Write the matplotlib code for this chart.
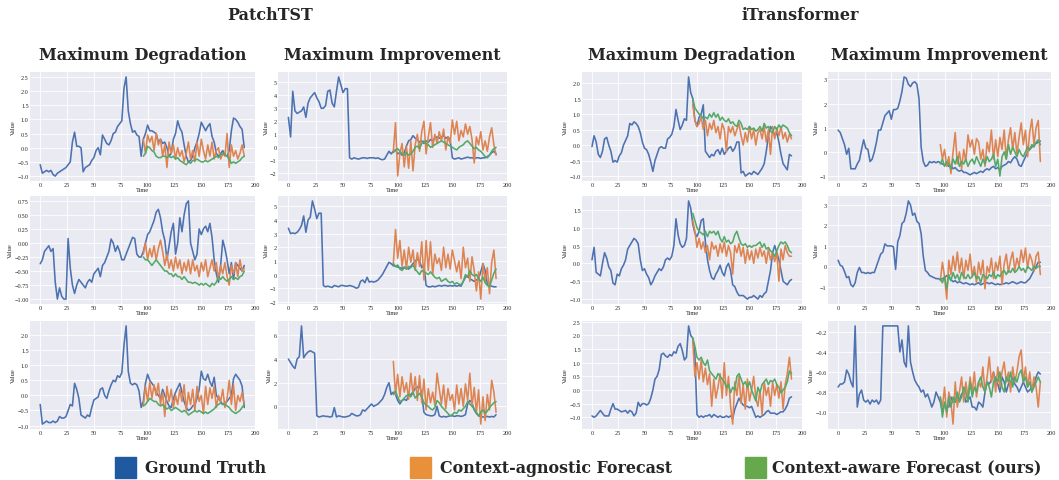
import numpy as np
import matplotlib
matplotlib.use("Agg")
import matplotlib.pyplot as plt
import seaborn as sns
from matplotlib.patches import Rectangle
from matplotlib.ticker import MultipleLocator

sns.set_style("darkgrid")
plt.rcParams['font.family'] = ['Liberation Serif', 'DejaVu Serif']

# time axes
t_gt = np.arange(0, 192, 2)
t_fc = np.arange(96, 192, 2)

# ---------------- PatchTST, Maximum Degradation ----------------
p_deg1_gt = [-0.6,-0.9,-0.85,-0.8,-0.85,-0.8,-0.95,-1.0,-0.9,-0.85,-0.8,-0.75,-0.7,-0.6,-0.5,0.2,0.55,0.05,0.05,0.0,
             -0.85,-0.7,-0.65,-0.6,-0.45,-0.35,-0.1,0.0,-0.25,0.45,0.3,0.15,0.1,0.25,0.5,0.55,0.75,0.85,0.95,2.1,
             2.5,1.3,0.85,0.55,0.6,0.45,0.4,-0.3,0.3,0.5,0.8,0.6,0.6,0.55,0.5,0.2,0.3,0.15,0.2,0.0,
             -0.3,-0.2,0.3,0.5,0.95,0.7,0.55,0.1,-0.3,-0.5,-0.45,-0.3,0.0,0.2,0.5,0.9,0.75,0.6,0.75,0.85,
             0.4,0.2,-0.2,-0.3,-0.2,-0.1,-0.25,-0.3,-0.1,0.6,1.05,1.0,0.9,0.75,0.65,0.0]
p_deg1_agn = [0.3,-0.2,0.45,0.2,0.4,-0.1,0.5,0.1,0.3,-0.3,0.1,-0.7,0.2,-0.2,0.1,-0.4,0.0,-0.3,-0.1,-0.5,
              -0.2,0.2,-0.4,-0.1,-0.5,0.2,-0.3,0.3,-0.1,-0.4,0.1,-0.3,0.2,-0.4,-0.1,0.0,-0.4,-0.2,-0.3,0.5,
              -0.7,0.1,-0.3,-0.1,-0.4,-0.2,0.1,-0.3]
p_deg1_awr = [-0.3,-0.2,0.05,0.0,-0.1,-0.15,-0.3,-0.35,-0.35,-0.3,-0.3,-0.35,-0.3,-0.35,-0.3,-0.4,-0.35,-0.45,-0.5,-0.55,
              -0.6,-0.5,-0.55,-0.45,-0.45,-0.4,-0.45,-0.5,-0.5,-0.45,-0.5,-0.45,-0.4,-0.35,-0.3,-0.35,-0.25,-0.2,-0.25,-0.3,
              -0.4,-0.55,-0.5,-0.55,-0.5,-0.45,-0.35,-0.3]

p_deg2_gt = [-0.37,-0.3,-0.15,-0.1,-0.05,-0.15,-0.1,-0.7,-1.0,-0.8,-0.95,-1.0,-1.0,0.08,-0.45,-0.75,-0.9,-0.75,-0.65,-0.7,
             -0.75,-0.8,-0.7,-0.65,-0.7,-0.55,-0.5,-0.45,-0.6,-0.4,-0.35,-0.25,-0.15,0.07,0.0,-0.15,-0.05,-0.15,-0.3,-0.3,
             -0.2,-0.1,0.0,0.1,0.08,-0.2,-0.25,-0.25,-0.15,0.0,0.15,0.2,0.3,0.4,0.55,0.6,0.45,0.2,0.05,-0.3,
             -0.05,0.2,0.35,-0.2,0.0,0.45,0.2,0.5,0.7,0.75,0.0,-0.15,-0.3,-0.2,0.25,0.15,0.25,0.3,0.2,0.35,
             0.1,-0.3,-0.55,-0.7,-0.4,0.05,-0.1,-0.3,-0.55,-0.35,-0.65,-0.35,-0.4,-0.45,-0.5,-0.4]
p_deg2_agn = [-0.2,0.0,-0.3,-0.1,-0.25,-0.05,-0.3,-0.1,0.05,-0.15,-0.4,-0.2,-0.45,-0.3,-0.5,-0.25,-0.45,-0.3,-0.55,-0.35,
              -0.5,-0.3,-0.55,-0.3,-0.5,-0.4,-0.6,-0.35,-0.5,-0.3,-0.6,-0.45,-0.3,-0.5,-0.35,-0.65,-0.4,-0.55,-0.35,-0.6,
              -0.75,-0.4,-0.55,-0.35,-0.6,-0.3,-0.5,-0.45]
p_deg2_awr = [-0.25,-0.3,-0.3,-0.35,-0.4,-0.35,-0.3,-0.35,-0.4,-0.45,-0.5,-0.5,-0.55,-0.55,-0.6,-0.55,-0.6,-0.6,-0.65,-0.6,
              -0.65,-0.7,-0.7,-0.72,-0.7,-0.72,-0.75,-0.72,-0.75,-0.72,-0.75,-0.78,-0.72,-0.75,-0.7,-0.6,-0.65,-0.6,-0.65,-0.68,
              -0.65,-0.6,-0.65,-0.62,-0.65,-0.6,-0.58,-0.5]

p_deg3_gt = [-0.3,-0.95,-0.9,-0.85,-0.9,-0.9,-0.85,-0.9,-0.85,-0.7,-0.75,-0.75,-0.7,-0.5,-0.3,-0.35,0.4,0.2,-0.1,-0.65,
             -0.7,-0.75,-0.65,-0.7,-0.4,-0.15,-0.1,-0.05,0.2,0.25,0.0,-0.1,0.15,0.35,0.5,0.45,0.65,0.6,0.75,1.65,
             2.3,0.8,0.4,0.35,0.4,0.35,0.15,-0.4,-0.2,0.4,0.7,0.5,0.4,0.3,0.1,0.0,-0.1,0.2,0.0,-0.2,
             -0.35,-0.4,-0.1,0.1,0.25,0.4,0.1,-0.2,-0.4,-0.5,-0.45,-0.35,-0.3,-0.1,0.2,0.8,0.55,0.5,0.7,0.45,
             0.3,0.6,0.0,-0.1,-0.2,-0.3,-0.25,-0.2,-0.1,0.0,0.55,0.7,0.6,0.5,0.3,-0.4]
p_deg3_agn = [-0.35,0.3,-0.2,0.45,-0.1,0.35,0.0,0.4,-0.3,0.1,-0.7,0.3,-0.2,0.2,-0.4,0.0,-0.3,0.2,-0.2,0.35,
              -0.5,0.1,-0.3,0.2,-0.5,0.3,-0.2,0.0,-0.6,0.3,-0.3,0.25,-0.1,0.3,-0.4,0.0,-0.2,0.2,-0.4,-0.1,
              0.5,-0.3,0.35,-0.5,0.0,-0.2,0.1,-0.3]
p_deg3_awr = [-0.35,-0.3,-0.2,-0.1,-0.15,-0.2,-0.2,-0.3,-0.35,-0.3,-0.4,-0.45,-0.4,-0.5,-0.45,-0.4,-0.45,-0.5,-0.55,-0.5,
              -0.55,-0.65,-0.6,-0.55,-0.5,-0.55,-0.5,-0.55,-0.6,-0.55,-0.6,-0.55,-0.5,-0.45,-0.35,-0.3,-0.25,-0.3,-0.3,-0.35,
              -0.4,-0.5,-0.55,-0.6,-0.55,-0.5,-0.4,-0.3]

# ---------------- PatchTST, Maximum Improvement ----------------
p_imp1_gt = [2.3,0.8,4.3,2.8,2.6,2.7,2.8,3.1,2.3,3.4,3.8,4.0,4.2,3.8,3.5,3.0,3.0,3.2,4.3,4.4,
             3.4,3.1,4.3,5.4,4.8,4.2,4.5,4.5,-0.8,-0.9,-0.8,-0.85,-0.9,-0.85,-0.8,-0.8,-0.85,-0.8,-0.8,-0.8,
             -0.85,-0.8,-0.9,-0.95,-0.9,-0.6,-0.3,-0.5,-0.3,-0.2,-0.5,-0.4,-0.6,-0.4,0.1,0.5,0.6,0.9,0.7,0.6,
             0.4,0.5,0.3,0.5,0.4,0.6,0.5,0.7,0.8,0.7,0.8,0.9,0.7,0.8,0.6,-0.8,-0.9,-0.85,-0.8,-0.9,
             -0.85,-0.8,-0.75,-0.8,-0.8,-0.85,-0.8,-0.8,-0.85,-0.8,-0.8,-0.7,-0.6,-0.4,-0.3,-0.5]
p_imp1_agn = [-0.3,1.9,-2.2,-0.5,0.3,-1.5,0.1,-1.6,0.5,-1.8,0.2,1.0,-0.3,1.2,2.0,-0.5,0.8,1.9,0.0,1.0,
              0.3,1.2,0.5,1.4,-0.2,0.8,0.3,2.1,1.0,2.0,0.5,1.3,0.8,1.8,1.0,1.6,0.6,-1.2,0.8,0.2,
              1.2,-0.2,0.5,-0.3,0.8,1.5,0.2,-0.6]
p_imp1_awr = [-0.4,-0.2,-0.1,-0.3,-0.5,-0.6,-0.4,-0.6,-0.5,-0.3,0.0,0.1,-0.1,0.3,0.5,0.3,0.2,0.0,0.1,0.2,
              0.3,0.4,0.5,0.4,0.3,0.2,0.1,0.0,-0.1,-0.2,0.0,0.1,0.2,0.4,0.5,0.3,0.1,-0.1,0.0,-0.2,
              -0.3,-0.5,-0.7,-0.8,-0.6,-0.3,-0.1,0.0]

p_imp2_gt = [3.4,3.0,3.05,3.0,3.1,3.3,3.6,4.3,3.1,4.0,4.2,5.4,4.8,4.1,4.5,4.5,-0.8,-0.9,-0.85,-0.9,
             -0.95,-0.8,-0.85,-0.9,-0.8,-0.8,-0.85,-0.85,-0.8,-0.85,-0.9,-1.0,-0.95,-0.5,-0.4,-0.6,-0.2,-0.55,-0.5,-0.55,
             -0.5,-0.4,-0.2,0.0,0.3,0.6,0.9,0.8,0.65,0.6,0.55,0.5,0.45,0.55,0.5,0.4,0.6,0.8,1.0,1.1,
             1.0,0.5,0.7,-0.8,-0.9,-0.9,-0.85,-0.9,-0.85,-0.8,-0.85,-0.8,-0.8,-0.85,-0.8,-0.85,-0.8,-0.85,-0.8,-0.85,
             -0.5,-0.2,-0.1,-0.3,-0.4,-0.5,-0.4,-0.3,0.2,0.8,0.3,-0.7,-0.8,-0.85,-0.9,-0.9]
p_imp2_agn = [0.8,3.3,1.2,2.5,0.6,1.8,0.4,2.0,0.9,1.8,0.3,1.6,0.6,2.4,-0.4,2.5,0.3,2.4,0.0,1.5,
              0.8,1.2,0.3,2.0,0.5,1.5,0.4,1.8,1.0,0.2,1.0,-0.3,2.0,0.5,1.2,-0.5,1.3,0.3,-1.2,0.2,
              -1.8,0.8,-0.5,0.5,-1.4,0.9,1.8,-0.3]
p_imp2_awr = [0.8,0.6,0.7,0.4,0.3,0.5,0.4,0.6,0.5,0.7,0.4,0.2,0.0,0.3,0.2,0.1,0.0,0.2,0.0,-0.2,
              -0.3,-0.2,-0.5,-0.4,-0.3,-0.5,-0.6,-0.5,-0.7,-0.6,-0.7,-0.75,-0.5,0.0,-0.2,0.3,0.0,-0.1,0.0,-0.3,
              -0.5,-0.2,-0.6,-0.8,-0.9,-0.4,0.1,0.4]

p_imp3_gt = [4.0,3.7,3.4,3.2,4.0,4.2,6.8,4.1,4.4,4.6,4.7,4.6,4.5,-0.8,-0.9,-0.85,-0.8,-0.85,-0.85,-0.9,
             -0.85,-0.1,-0.9,-0.8,-0.85,-0.9,-0.9,-0.85,-0.8,-0.6,-0.7,-0.8,-0.8,-0.7,-0.3,-0.4,-0.2,0.0,0.2,0.0,
             0.1,0.2,0.4,0.6,1.0,1.6,2.0,1.0,1.2,1.0,0.5,0.2,0.5,0.6,0.5,0.9,1.0,1.2,1.5,1.6,
             1.8,1.0,-0.5,-0.7,-0.75,-0.8,-0.8,-0.7,0.0,-0.8,-0.9,-0.85,-0.9,-0.85,-0.8,-0.8,-0.85,-0.8,-0.8,-0.85,
             -0.8,-0.7,0.2,0.5,0.3,-0.3,-0.6,-0.8,-0.85,-0.9,-0.9,-0.85,-0.9,-0.85,-0.9,-0.7]
p_imp3_agn = [3.8,1.0,2.7,0.8,2.5,1.2,2.0,0.6,2.8,1.0,2.5,0.5,2.6,0.3,2.3,-0.3,1.5,0.3,1.2,0.1,
              2.8,1.5,0.2,1.8,-0.2,1.5,0.5,1.0,-0.3,1.8,0.2,1.5,0.0,1.9,0.5,2.8,0.0,1.6,-0.5,1.4,
              -1.5,0.8,-1.2,1.0,-0.3,2.2,1.2,-0.5]
p_imp3_awr = [1.0,1.3,0.8,0.4,0.5,0.7,0.9,1.0,0.8,1.2,0.7,0.9,1.1,0.8,0.3,0.1,0.0,-0.2,-0.3,-0.1,
              0.5,0.3,0.0,-0.2,-0.4,-0.6,-0.8,-0.7,-0.5,-0.6,-0.3,-0.4,-0.2,0.0,0.4,0.2,0.0,-0.2,-0.5,-0.8,
              -0.5,-0.3,-0.6,-0.4,-0.1,0.1,0.3,0.4]

# ---------------- iTransformer, Maximum Degradation ----------------
i_deg1_gt = [-0.05,0.3,0.1,-0.3,-0.4,-0.2,0.2,0.25,0.0,-0.2,-0.55,-0.5,-0.55,-0.35,-0.25,0.0,0.15,0.3,0.7,0.65,
             0.75,0.7,0.6,0.4,0.1,-0.1,-0.15,-0.3,-0.55,-0.85,-0.5,-0.3,-0.1,-0.05,-0.1,-0.1,0.2,0.25,0.35,0.6,
             1.15,0.8,0.5,0.65,0.85,0.8,2.2,1.7,1.5,0.8,0.6,0.9,1.0,1.3,-0.2,-0.3,-0.4,-0.3,-0.35,-0.2,
             -0.15,-0.3,-0.1,-0.3,-0.2,-0.1,-0.05,-0.2,-0.1,0.1,0.1,-0.9,-0.85,-1.0,-0.95,-0.9,-0.95,-0.85,-0.9,-0.95,
             -0.85,-0.75,-0.6,-0.2,0.3,0.6,0.5,0.3,0.4,0.1,-0.3,-0.6,-0.7,-0.8,-0.3,-0.35]
i_deg1_agn = [1.3,0.8,0.6,0.7,0.9,0.5,0.8,0.3,0.7,0.5,0.8,0.4,0.6,0.2,0.7,0.5,-0.2,0.6,0.4,0.6,
              0.3,0.5,0.7,0.3,0.0,0.4,0.1,0.6,0.2,0.5,0.0,0.4,0.5,0.2,0.6,0.1,0.5,-0.3,0.6,0.2,
              0.55,0.3,0.6,0.2,0.4,0.1,0.35,0.2]
i_deg1_awr = [1.5,1.2,1.1,1.0,0.95,0.85,0.9,0.85,1.0,0.9,1.05,0.9,1.0,0.8,0.9,0.8,0.75,0.85,0.7,0.75,
              0.65,0.6,0.8,0.7,0.5,0.55,0.5,0.6,0.5,0.55,0.45,0.5,0.6,0.45,0.7,0.55,0.6,0.45,0.4,0.6,
              0.5,0.65,0.55,0.65,0.6,0.55,0.4,0.3]

i_deg2_gt = [0.1,0.45,-0.25,-0.3,-0.35,0.0,0.3,0.15,-0.1,-0.2,-0.55,-0.6,-0.3,-0.35,-0.15,-0.05,0.1,0.4,0.5,0.6,
             0.7,0.65,0.55,0.1,-0.2,-0.15,-0.3,-0.4,-0.6,-0.5,-0.35,-0.25,-0.15,-0.2,-0.1,0.1,0.15,0.1,0.2,0.5,
             1.25,0.8,0.55,0.45,0.5,0.7,1.75,1.55,1.1,0.85,0.75,0.9,1.2,1.25,0.6,0.1,-0.2,-0.4,-0.45,-0.3,
             -0.2,-0.05,-0.25,-0.35,-0.1,0.0,-0.2,-0.6,-0.65,-0.8,-0.9,-0.9,-0.9,-0.95,-1.0,-0.95,-0.95,-0.9,-0.95,-1.0,
             -0.9,-0.95,-0.85,-0.8,-0.5,-0.2,0.3,0.5,0.3,0.1,-0.2,-0.5,-0.55,-0.6,-0.5,-0.45]
i_deg2_agn = [1.2,0.9,0.45,0.7,0.4,0.6,0.3,0.5,0.1,0.6,0.4,0.5,0.2,0.55,0.3,0.6,0.2,0.5,0.3,-0.3,
              0.5,0.3,0.55,0.2,0.45,0.0,0.4,0.1,0.35,0.0,0.4,0.15,0.45,0.2,0.35,0.0,0.4,0.1,0.3,0.05,
              0.3,-0.5,0.4,0.1,0.5,0.3,0.2,0.2]
i_deg2_awr = [1.4,1.2,1.0,0.9,0.85,0.8,0.9,0.75,0.9,0.85,0.9,0.8,0.9,0.7,0.6,0.75,0.6,0.65,0.55,0.6,
              0.8,0.9,0.7,0.55,0.5,0.55,0.45,0.5,0.45,0.5,0.5,0.55,0.6,0.45,0.55,0.4,0.45,0.35,0.3,0.2,
              0.35,0.5,0.6,0.55,0.6,0.5,0.35,0.3]

i_deg3_gt = [-0.95,-1.0,-0.95,-0.85,-0.75,-0.85,-0.95,-0.95,-0.95,-0.7,-0.5,-0.7,-0.7,-0.75,-0.8,-0.78,-0.75,-0.85,-0.75,-0.8,
             -0.95,-0.85,-0.45,-0.6,-0.5,-0.5,-0.55,-0.5,-0.3,0.0,0.4,0.5,0.75,1.3,1.35,1.25,1.2,1.3,1.25,1.4,
             1.35,1.6,1.7,1.45,1.1,1.2,2.35,2.0,1.9,1.3,-0.9,-1.0,-0.95,-1.0,-0.95,-0.95,-0.9,-1.0,-0.9,-0.95,
             -1.0,-0.95,-1.0,-1.0,-0.95,-1.0,-0.95,-1.05,-0.7,-0.5,-0.3,-0.45,-0.55,-0.6,-0.6,-0.65,-0.6,-0.8,-1.0,-0.95,
             -1.0,-0.95,-0.9,-0.8,-0.75,-0.85,-0.85,-0.85,-0.9,-0.85,-0.8,-0.8,-0.7,-0.55,-0.3,-0.25]
i_deg3_agn = [1.8,0.5,1.0,0.4,1.1,0.3,0.8,0.2,0.6,-0.6,0.4,-0.3,0.1,0.6,-0.3,1.0,-0.2,0.5,-0.6,-1.25,
              0.3,-0.2,0.5,-0.5,0.2,-0.7,0.4,-0.4,0.0,0.5,-0.3,-0.6,0.0,-0.9,0.3,-0.2,0.1,-0.6,0.3,-0.2,
              0.2,-0.3,0.3,-0.7,0.2,0.6,1.2,0.4]
i_deg3_awr = [1.9,1.6,1.2,1.1,1.2,1.0,0.9,1.1,0.7,0.6,0.5,0.4,0.6,0.5,0.4,0.3,0.1,0.2,-0.1,0.1,
              0.0,0.5,0.6,0.4,0.2,0.3,0.1,0.3,0.0,-0.2,-0.4,0.1,-0.1,0.2,0.3,0.4,0.2,0.35,0.3,0.4,
              0.2,0.1,-0.1,0.0,0.1,0.3,0.7,0.6]

# ---------------- iTransformer, Maximum Improvement ----------------
i_imp1_gt = [0.9,0.8,0.55,0.3,-0.1,0.15,-0.7,-0.7,-0.7,-0.5,-0.35,0.1,0.5,0.15,0.1,-0.4,-0.3,0.0,0.4,0.9,
             0.9,1.2,1.5,1.6,1.7,1.35,1.75,1.75,1.8,2.1,2.5,3.1,3.05,2.8,2.7,2.85,2.9,2.8,2.2,0.2,
             -0.4,-0.6,-0.55,-0.4,-0.45,-0.4,-0.45,-0.4,-0.45,-0.5,-0.55,-0.5,-0.6,-0.55,-0.7,-0.65,-0.75,-0.8,-0.75,-0.85,
             -0.85,-0.9,-0.95,-0.9,-0.85,-0.9,-0.85,-0.8,-0.85,-0.75,-0.7,-0.75,-0.65,-0.6,-0.7,-0.65,-0.75,-0.6,-0.55,-0.5,
             -0.4,-0.45,-0.3,-0.2,-0.3,-0.55,-0.6,-0.4,-0.2,0.0,0.1,0.2,0.3,0.35,0.4,0.45]
i_imp1_agn = [0.3,-0.3,0.1,-0.6,-0.2,-0.9,0.0,0.8,-0.5,0.0,-0.7,0.1,-0.4,0.7,0.2,0.5,-0.1,0.55,0.4,-0.3,
              0.1,-0.6,0.4,0.0,0.9,-0.3,0.5,-0.2,0.6,0.1,0.9,-0.3,0.5,1.0,0.1,0.8,-0.1,0.6,1.2,0.3,
              0.9,-0.2,0.8,1.35,0.3,1.0,1.3,-0.4]
i_imp1_awr = [-0.5,-0.3,-0.6,-0.4,-0.5,-0.7,-0.3,-0.5,-0.2,-0.6,-0.4,-0.5,-0.3,-0.6,-0.4,-0.3,-0.5,-0.2,-0.4,-0.6,
              -0.3,-0.5,-0.2,-0.4,-0.3,-0.1,-0.6,-0.3,-1.0,-0.2,0.0,-0.3,0.3,-0.1,0.2,0.0,-0.2,0.1,-0.1,-0.2,
              0.0,0.2,0.1,0.3,0.2,0.4,0.5,0.3]

i_imp2_gt = [0.3,0.05,0.0,-0.25,-0.55,-0.5,-0.9,-1.0,-0.8,-0.3,-0.05,-0.3,-0.3,-0.35,-0.3,-0.35,-0.3,-0.3,0.0,0.3,
             0.6,0.7,1.1,1.0,1.0,1.0,0.95,-0.15,1.2,1.5,2.1,2.2,2.6,3.2,3.0,2.5,2.6,2.2,2.1,1.6,
             0.5,-0.2,-0.3,-0.45,-0.5,-0.55,-0.6,-0.6,-0.65,-0.6,-0.55,-0.45,-0.55,-0.65,-0.75,-0.7,-0.8,-0.75,-0.8,-0.85,
             -0.8,-0.85,-0.9,-0.85,-0.9,-0.85,-0.8,-0.9,-0.85,-0.8,-0.8,-0.85,-0.8,-0.85,-0.9,-0.85,-0.9,-0.85,-0.85,-0.8,
             -0.85,-0.8,-0.75,-0.8,-0.85,-0.8,-0.75,-0.8,-0.8,-0.7,-0.6,-0.4,-0.2,0.0,0.2,0.2]
i_imp2_agn = [-0.7,0.2,-0.5,-1.6,0.3,-0.4,0.5,-0.2,0.7,-0.3,0.4,-0.6,0.3,-0.2,0.6,-0.5,0.0,-0.8,0.2,-0.4,
              0.3,-1.1,0.0,-0.3,0.4,-0.6,0.2,-0.2,0.5,-0.9,0.1,0.6,-0.3,0.3,0.7,-0.2,0.4,0.0,0.8,0.2,
              0.9,-0.1,0.6,0.3,-0.2,0.5,0.7,-0.4]
i_imp2_awr = [-0.6,-0.8,-0.5,-1.1,-0.4,-0.7,-0.3,-0.6,-0.4,-0.7,-0.3,-0.5,-0.6,-0.4,-0.6,-0.5,-0.3,-0.6,-0.5,-0.8,
              -0.4,-0.5,-0.6,-0.4,-0.5,-0.3,-0.6,-0.4,-0.5,-0.3,-0.2,-0.4,-0.2,-0.3,-0.1,-0.3,-0.2,0.0,-0.2,-0.1,
              -0.3,0.0,-0.1,-0.2,0.0,-0.1,0.0,0.0]

i_imp3_gt = [-0.75,-0.72,-0.72,-0.7,-0.58,-0.62,-0.7,-0.75,-0.14,-0.95,-0.82,-0.78,-0.88,-0.9,-0.88,-0.92,-0.88,-0.9,-0.88,-0.92,
             -0.88,-0.14,-0.14,-0.14,-0.14,-0.14,-0.14,-0.14,-0.14,-0.4,-0.28,-0.5,-0.55,-0.14,-0.5,-0.6,-0.68,-0.72,-0.75,-0.8,
             -0.78,-0.85,-0.82,-0.88,-0.95,-0.9,-0.8,-0.85,-0.9,-1.0,-0.92,-0.95,-0.95,-0.85,-0.9,-0.9,-0.85,-0.88,-0.82,-0.8,
             -0.9,-0.88,-0.85,-0.95,-0.95,-0.98,-0.9,-0.92,-0.95,-0.8,-0.7,-0.72,-0.68,-0.6,-0.7,-0.72,-0.8,-0.65,-0.7,-0.8,
             -0.72,-0.7,-0.65,-0.72,-0.75,-0.8,-0.75,-0.7,-0.75,-0.8,-0.78,-0.75,-0.72,-0.65,-0.6,-0.62]
i_imp3_agn = [-0.85,-0.95,-0.75,-1.05,-0.8,-0.9,-1.12,-0.7,-0.95,-0.8,-0.65,-0.9,-0.7,-0.85,-0.65,-0.8,-0.6,-0.85,-0.7,-0.75,
              -0.55,-0.8,-0.65,-0.45,-0.7,-0.6,-0.8,-0.55,-0.75,-0.6,-0.5,-0.7,-0.6,-0.8,-0.55,-0.7,-0.6,-0.45,-0.38,-0.7,
              -0.55,-0.75,-0.6,-0.8,-0.65,-0.75,-0.95,-0.7]
i_imp3_awr = [-0.85,-1.05,-0.9,-1.0,-0.85,-0.95,-0.85,-0.9,-0.8,-0.9,-0.85,-0.75,-0.8,-0.9,-0.7,-0.85,-0.75,-0.8,-0.7,-0.65,
              -0.75,-0.8,-0.7,-0.75,-0.85,-0.7,-0.65,-0.7,-0.6,-0.75,-0.8,-0.65,-0.7,-0.6,-0.75,-0.65,-0.7,-0.62,-0.58,-0.7,
              -0.65,-0.75,-0.7,-0.8,-0.75,-0.7,-0.65,-0.7]

panels = [
    # (column, row, gt, agnostic, aware, y tick step)
    (0, 0, p_deg1_gt, p_deg1_agn, p_deg1_awr, 0.5),
    (0, 1, p_deg2_gt, p_deg2_agn, p_deg2_awr, 0.25),
    (0, 2, p_deg3_gt, p_deg3_agn, p_deg3_awr, 0.5),
    (1, 0, p_imp1_gt, p_imp1_agn, p_imp1_awr, 1),
    (1, 1, p_imp2_gt, p_imp2_agn, p_imp2_awr, 1),
    (1, 2, p_imp3_gt, p_imp3_agn, p_imp3_awr, 2),
    (2, 0, i_deg1_gt, i_deg1_agn, i_deg1_awr, 0.5),
    (2, 1, i_deg2_gt, i_deg2_agn, i_deg2_awr, 0.5),
    (2, 2, i_deg3_gt, i_deg3_agn, i_deg3_awr, 0.5),
    (3, 0, i_imp1_gt, i_imp1_agn, i_imp1_awr, 1),
    (3, 1, i_imp2_gt, i_imp2_agn, i_imp2_awr, 1),
    (3, 2, i_imp3_gt, i_imp3_agn, i_imp3_awr, 0.2),
]

series_colors = ['#4C72B0', '#DD8452', '#55A868']
legend_colors = ['#1f5aa0', '#e8913a', '#66a84c']
legend_labels = ['Ground Truth', 'Context-agnostic Forecast', 'Context-aware Forecast (ours)']
model_titles = ['PatchTST', 'iTransformer']
col_titles = ['Maximum Degradation', 'Maximum Improvement', 'Maximum Degradation', 'Maximum Improvement']

W, H = 1059, 481
fig = plt.figure(figsize=(W / 100, H / 100), dpi=100)

col_px = [(30, 255), (278, 507), (582, 802), (828, 1051)]
row_px = [(73, 182), (197, 305), (322, 430)]

for c, r, gt, agn, awr, ystep in panels:
    l, rr = col_px[c]
    t, b = row_px[r]
    ax = fig.add_axes([l / W, 1 - b / H, (rr - l) / W, (b - t) / H])
    ax.set_facecolor('#EAEAF2')
    ax.plot(t_gt, gt, color=series_colors[0], lw=1.15)
    ax.plot(t_fc, agn, color=series_colors[1], lw=1.15)
    ax.plot(t_fc, awr, color=series_colors[2], lw=1.15)
    ax.set_xticks([0, 25, 50, 75, 100, 125, 150, 175, 200])
    ax.yaxis.set_major_locator(MultipleLocator(ystep))
    ax.tick_params(labelsize=4.4, pad=1, length=0)
    ax.set_xlabel('Time', fontsize=4.6, labelpad=0)
    ax.set_ylabel('Value', fontsize=4.6, labelpad=1)
    ax.grid(True, color='white', lw=0.6)
    for s in ax.spines.values():
        s.set_visible(False)

title_font = dict(family='DejaVu Serif', weight='bold')
fig.text(270 / W, 1 - 16 / H, model_titles[0], ha='center', va='center', fontsize=11.5, **title_font)
fig.text(800 / W, 1 - 16 / H, model_titles[1], ha='center', va='center', fontsize=11.5, **title_font)
for c, txt in enumerate(col_titles):
    l, rr = col_px[c]
    fig.text((l + rr) / 2 / W, 1 - 55 / H, txt, ha='center', va='center', fontsize=11.6, **title_font)

# legend
sq_x = [115, 410, 745]
tx_x = [145, 440, 772]
for i in range(3):
    fig.patches.append(Rectangle((sq_x[i] / W, 1 - 479 / H), 21 / W, 21 / H,
                                 transform=fig.transFigure, color=legend_colors[i], figure=fig))
    fig.text(tx_x[i] / W, 1 - 469 / H, legend_labels[i], ha='left', va='center', fontsize=11.4, **title_font)

fig.savefig('out.png', dpi=100)
